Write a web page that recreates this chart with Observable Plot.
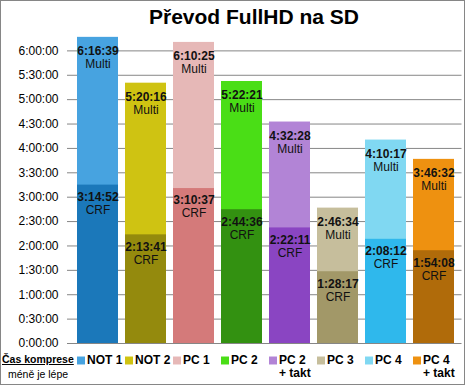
<!DOCTYPE html>
<html><head><meta charset="utf-8">
<script src="https://cdn.jsdelivr.net/npm/d3@7"></script>
<script src="https://cdn.jsdelivr.net/npm/@observablehq/plot@0.6"></script>
<style>
body{margin:0;background:#fff;}
#wrap{position:relative;width:465px;height:385px;box-sizing:border-box;border:1px solid #868686;overflow:hidden;font-family:"Liberation Sans",Arial,sans-serif;color:#000;}
#title{position:absolute;top:4px;left:148px;width:200px;text-align:center;font-weight:bold;font-size:21px;white-space:nowrap;}
#chart{position:absolute;left:0;top:0;}
#lab1{position:absolute;left:1px;top:352px;font-weight:bold;font-size:10.5px;text-decoration:underline;white-space:nowrap;}
#lab2{position:absolute;left:7px;top:367px;font-size:10.5px;white-space:nowrap;}
</style></head>
<body>
<div id="wrap">
<div id="chart"></div>
<div id="title">Převod FullHD na SD</div>
<div id="lab1">Čas komprese</div>
<div id="lab2">méně je lépe</div>
</div>
<script>
const categories = ["NOT 1","NOT 2","PC 1","PC 2","PC 2 + takt","PC 3","PC 4","PC 4 + takt"];
const legendLabels = ["NOT 1","NOT 2","PC 1","PC 2","PC 2\n+ takt","PC 3","PC 4","PC 4\n+ takt"];
const multiTimes = ["6:16:39","5:20:16","6:10:25","5:22:21","4:32:28","2:46:34","4:10:17","3:46:32"];
const crfTimes = ["3:14:52","2:13:41","3:10:37","2:44:36","2:22:11","1:28:17","2:08:12","1:54:08"];
const multiColors = ["#47a3e0","#cfc312","#e6b8b7","#4ade16","#b284d6","#c6be9c","#80d8f2","#ee9110"];
const crfColors = ["#1b78ba","#948a0d","#d47a7a","#339111","#8a45c2","#a29868","#2fb8ec","#b06b0a"];
const yTickLabels = ["0:00:00","0:30:00","1:00:00","1:30:00","2:00:00","2:30:00","3:00:00","3:30:00","4:00:00","4:30:00","5:00:00","5:30:00","6:00:00"];
const yMaxLabel = "6:30:00";

const toSec = t => { const [h,m,s] = t.split(":").map(Number); return h*3600+m*60+s; };
const yTicks = yTickLabels.map(toSec);
const tickLabelMap = new Map(yTickLabels.map(l => [toSec(l), l]));

const multiRows = categories.map((c,i) => ({cat:c, type:"Multi", time:multiTimes[i], sec:toSec(multiTimes[i]), color:multiColors[i]}));
const crfRows = categories.map((c,i) => ({cat:c, type:"CRF", time:crfTimes[i], sec:toSec(crfTimes[i]), color:crfColors[i]}));
const legRows = categories.map((c,i) => ({cat:c, label:legendLabels[i], color:multiColors[i]}));

const chart = Plot.plot({
  width:463, height:383,
  marginLeft:69, marginRight:2.5, marginTop:25, marginBottom:41,
  style:{fontFamily:'"Liberation Sans", Arial, sans-serif', color:"#000", background:"transparent", overflow:"visible"},
  x:{domain:categories, padding:0.143, axis:null},
  y:{domain:[0, toSec(yMaxLabel)], axis:null},
  color:{type:"identity"},
  marks:[
    Plot.gridY(yTicks, {stroke:"#868686", strokeOpacity:1}),
    Plot.axisY(yTicks, {label:null, tickFormat:d => tickLabelMap.get(d), tickSize:3, tickPadding:9, stroke:"#868686", fontSize:12, fill:"#000"}),
    Plot.barY(multiRows, {x:"cat", y:"sec", fill:"color"}),
    Plot.barY(crfRows, {x:"cat", y:"sec", fill:"color"}),
    Plot.text(multiRows, {x:"cat", y:"sec", text:"time", dy:14, fontSize:12, fontWeight:"bold", fill:"#111"}),
    Plot.text(multiRows, {x:"cat", y:"sec", text:"type", dy:27, fontSize:12, fill:"#111"}),
    Plot.text(crfRows, {x:"cat", y:"sec", text:"time", dy:12, fontSize:12, fontWeight:"bold", fill:"#111"}),
    Plot.text(crfRows, {x:"cat", y:"sec", text:"type", dy:25, fontSize:12, fill:"#111"}),
    Plot.dot(legRows, {x:"cat", frameAnchor:"bottom", dy:17, dx:-17, symbol:"square", r:4.5, fill:"color", stroke:null}),
    Plot.text(legRows, {x:"cat", text:"label", frameAnchor:"bottom", dy:12, dx:-11, textAnchor:"start", lineAnchor:"top", lineHeight:1.05, fontSize:12, fontWeight:"bold", fill:"#000"})
  ]
});
document.getElementById("chart").appendChild(chart);
</script>
</body></html>
